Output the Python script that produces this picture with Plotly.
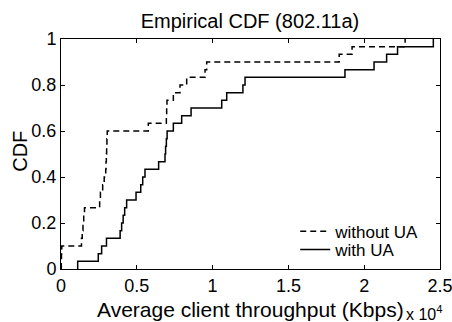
import numpy as np
import plotly.graph_objects as go

# Sorted throughput samples (Kbps)
without_ua = [20, 30, 50, 1350, 1400, 1450, 1500, 1550, 2550, 2600, 2750, 2850,
              2950, 2970, 2990, 3010, 3030, 3050, 5760, 6950, 6970, 6990, 7410,
              7850, 8290, 9500, 9610, 18350, 19200, 22700]
with_ua = [1100, 2460, 2680, 3000, 3900, 4000, 4100, 4200, 4330, 4950, 5260,
           5390, 5540, 6440, 6860, 6900, 6950, 7000, 7410, 7960, 8580, 10600,
           10930, 12000, 12140, 18730, 20650, 21480, 22200, 24560]

series_names = ["without UA", "with UA"]
series_dash = ["6px,4px", "solid"]
x_ticks = [0, 0.5, 1, 1.5, 2, 2.5]
x_tick_labels = ["0", "0.5", "1", "1.5", "2", "2.5"]
y_ticks = [0, 0.2, 0.4, 0.6, 0.8, 1]
y_tick_labels = ["0", "0.2", "0.4", "0.6", "0.8", "1"]
scale = 1e4

def ecdf(vals):
    v = np.sort(np.asarray(vals, dtype=float)) / scale
    n = len(v)
    x = np.concatenate([[v[0]], v])
    y = np.concatenate([[0.0], np.arange(1, n + 1) / n])
    return x, y

fig = go.Figure()
legends = ["legend", "legend2"]
for name, data, dash, lg in zip(series_names, [without_ua, with_ua], series_dash, legends):
    x, y = ecdf(data)
    fig.add_trace(go.Scatter(x=x, y=y, mode="lines", name=name, legend=lg,
                             line=dict(color="black", width=1.5, dash=dash, shape="hv")))

fontfam = "Liberation Sans, Arial, sans-serif"
axis_common = dict(showgrid=False, zeroline=False, showline=True, linecolor="black",
                   linewidth=1, mirror="ticks", ticks="inside", ticklen=4,
                   automargin=False, ticklabeloverflow="allow",
                   tickcolor="black", tickfont=dict(size=18, color="black", family=fontfam))
legend_common = dict(xanchor="left", yanchor="middle", bgcolor="rgba(0,0,0,0)",
                     font=dict(size=17, color="black", family=fontfam),
                     itemwidth=30, borderwidth=0)
fig.update_layout(
    width=452, height=322,
    margin=dict(l=61, r=12, t=39, b=53),
    paper_bgcolor="white", plot_bgcolor="white",
    font=dict(family=fontfam, color="black"),
    title=dict(text="Empirical CDF (802.11a)", x=0.553, xanchor="center", y=0.935,
               yanchor="middle", font=dict(size=20, color="black")),
    xaxis=dict(range=[0, 2.5], tickvals=x_ticks, ticktext=x_tick_labels, **axis_common),
    yaxis=dict(range=[0, 1], tickvals=y_ticks, ticktext=y_tick_labels, **axis_common),
    legend=dict(x=0.618, y=0.162, **legend_common),
    legend2=dict(x=0.618, y=0.083, **legend_common),
    showlegend=True,
)
fig.add_annotation(text="Average client throughput (Kbps)", xref="paper", yref="paper",
                   x=0.5, xanchor="center", y=-0.178, yanchor="middle", showarrow=False,
                   font=dict(size=21, color="black"))
fig.add_annotation(text="CDF", xref="paper", yref="paper", textangle=-90,
                   x=-0.108, xanchor="center", y=0.51, yanchor="middle", showarrow=False,
                   font=dict(size=20, color="black"))
fig.add_annotation(text="x 10<sup>4</sup>", xref="paper", yref="paper",
                   x=0.905, xanchor="left", y=-0.19, yanchor="middle", showarrow=False,
                   font=dict(size=16, color="black"))
fig.write_html("out.html", config={"displayModeBar": False},
               post_script="document.body.style.margin='0';document.body.style.overflow='hidden';")
